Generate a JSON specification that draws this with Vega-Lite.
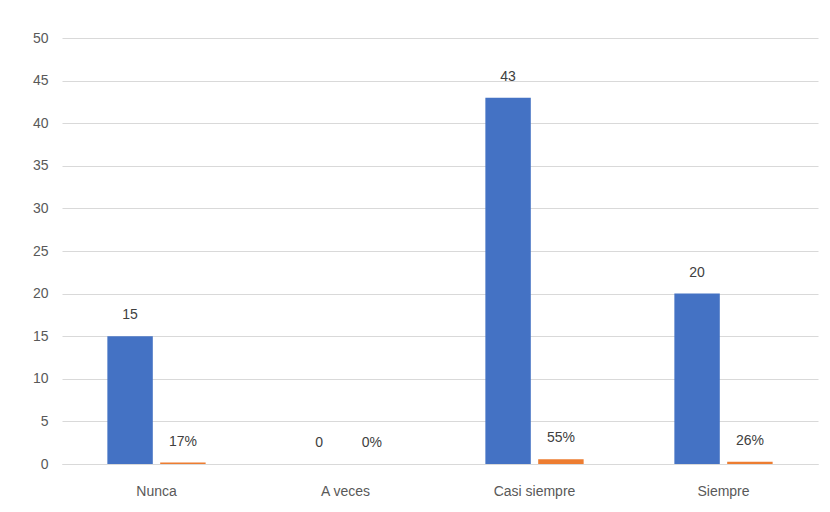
{
  "$schema": "https://vega.github.io/schema/vega-lite/v6.json",
  "autosize": {"type": "none"},
  "width": 756,
  "height": 426,
  "padding": {"left": 62, "top": 38, "right": 12, "bottom": 48},
  "background": "white",
  "config": {
    "view": {"stroke": null},
    "font": "Liberation Sans"
  },
  "data": {
    "values": [
      {"categoria": "Nunca", "serie": "Frecuencia", "valor": 15, "etiqueta": "15"},
      {"categoria": "Nunca", "serie": "Porcentaje", "valor": 0.17, "etiqueta": "17%"},
      {"categoria": "A veces", "serie": "Frecuencia", "valor": 0, "etiqueta": "0"},
      {"categoria": "A veces", "serie": "Porcentaje", "valor": 0, "etiqueta": "0%"},
      {"categoria": "Casi siempre", "serie": "Frecuencia", "valor": 43, "etiqueta": "43"},
      {"categoria": "Casi siempre", "serie": "Porcentaje", "valor": 0.55, "etiqueta": "55%"},
      {"categoria": "Siempre", "serie": "Frecuencia", "valor": 20, "etiqueta": "20"},
      {"categoria": "Siempre", "serie": "Porcentaje", "valor": 0.26, "etiqueta": "26%"}
    ]
  },
  "encoding": {
    "x": {
      "field": "categoria",
      "type": "nominal",
      "sort": ["Nunca", "A veces", "Casi siempre", "Siempre"],
      "scale": {"paddingInner": 0.48, "paddingOuter": 0.24},
      "axis": {
        "title": null,
        "labelAngle": 0,
        "labelFontSize": 14,
        "labelColor": "#595959",
        "labelPadding": 20,
        "domain": true,
        "domainColor": "#d9d9d9",
        "ticks": false
      }
    },
    "xOffset": {
      "field": "serie",
      "type": "nominal",
      "scale": {"paddingInner": 0.14}
    },
    "y": {
      "field": "valor",
      "type": "quantitative",
      "scale": {"domain": [0, 50], "nice": false},
      "axis": {
        "title": null,
        "values": [0, 5, 10, 15, 20, 25, 30, 35, 40, 45, 50],
        "labelFontSize": 14,
        "labelColor": "#595959",
        "labelPadding": 14,
        "domain": false,
        "ticks": false,
        "gridColor": "#d9d9d9",
        "gridWidth": 1
      }
    }
  },
  "layer": [
    {
      "mark": {"type": "bar"},
      "encoding": {
        "color": {
          "field": "serie",
          "type": "nominal",
          "scale": {"domain": ["Frecuencia", "Porcentaje"], "range": ["#4472C4", "#ED7D31"]},
          "legend": null
        }
      }
    },
    {
      "mark": {"type": "text", "baseline": "bottom", "dy": -14, "fontSize": 14, "color": "#404040"},
      "encoding": {
        "text": {"field": "etiqueta"}
      }
    }
  ]
}
